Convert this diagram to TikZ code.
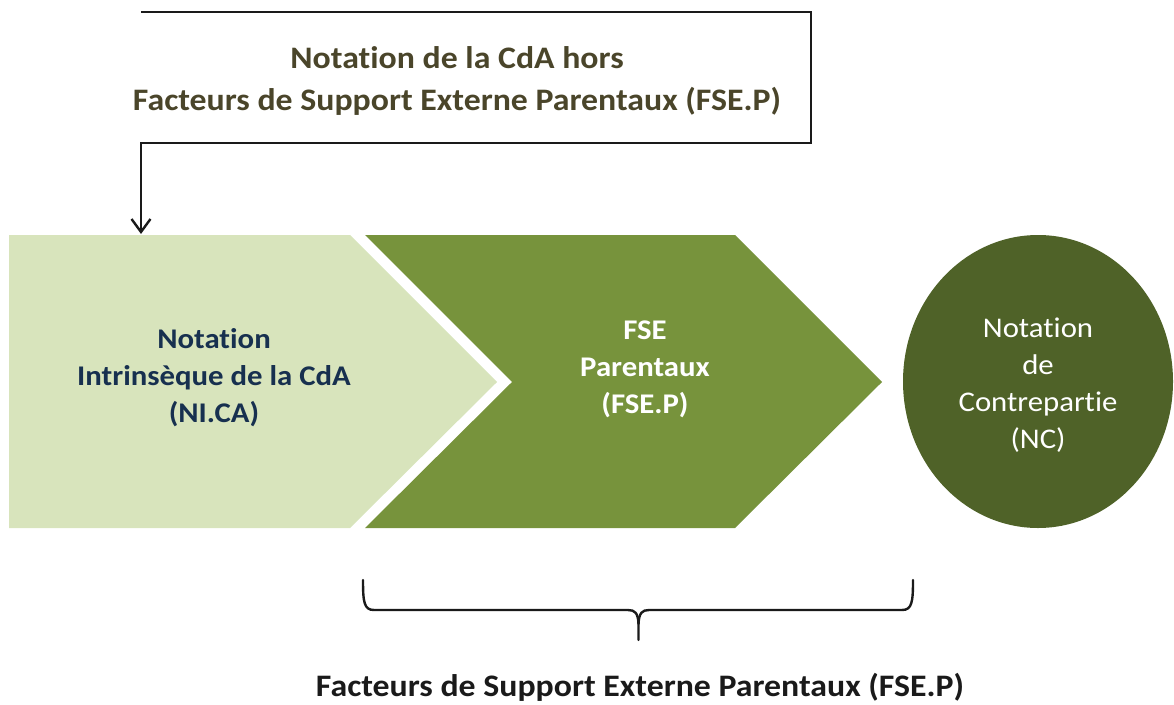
\documentclass[tikz,border=0pt]{standalone}
\usepackage{fontspec}
\setmainfont[Ligatures=NoCommon,FakeStretch=1.08]{Carlito}
\usetikzlibrary{arrows.meta,shapes.geometric}
\definecolor{lightg}{HTML}{D8E4BC}
\definecolor{midg}{HTML}{77933C}
\definecolor{darkg}{HTML}{4F6228}
\definecolor{toptxt}{HTML}{4A452A}
\definecolor{navy}{HTML}{17304F}
\definecolor{ink}{HTML}{1A1A1A}
\tikzset{
  lbl/.style={align=center, inner sep=0pt},
  conn/.style={draw=ink, line width=2.4pt},
}
\begin{document}
\begin{tikzpicture}[x=1pt,y=-1pt]
\useasboundingbox (0,0) rectangle (1174,704);
% chevrons
\fill[lightg] (9,235) -- (350,235) -- (497,382) -- (350,528) -- (9,528) -- cycle;
\fill[midg] (365,235) -- (735,235) -- (882,382) -- (735,528) -- (365,528) -- (512,382) -- cycle;
\node[ellipse, fill=darkg, minimum width=270pt, minimum height=293pt, inner sep=0pt] (nc) at (1038,381.5) {};
% texts
\node[lbl, text=toptxt, font=\bfseries\fontsize{31.3}{42}\selectfont] (top) at (457,81)
  {Notation de la CdA hors\\Facteurs de Support Externe Parentaux (FSE.P)};
\node[lbl, text=navy, font=\bfseries\fontsize{28.5}{37}\selectfont] (nica) at (214,378)
  {Notation\\Intrinsèque de la CdA\\(NI.CA)};
\node[lbl, text=white, font=\bfseries\fontsize{28.5}{37}\selectfont] (fsep) at (645,369)
  {FSE\\Parentaux\\(FSE.P)};
\node[lbl, text=white, font=\fontsize{28.5}{37}\selectfont] (nctxt) at (1038,385)
  {Notation\\de\\Contrepartie\\(NC)};
\node[lbl, text=ink, font=\bfseries\fontsize{31.3}{42}\selectfont] (bottom) at (640,687)
  {Facteurs de Support Externe Parentaux (FSE.P)};
% top open box with arrow
\coordinate (tl) at (141,12);
\coordinate (tr) at (811,12);
\coordinate (br) at (811,143);
\coordinate (bl) at (141,143);
\coordinate (tip) at (141,234);
\draw[conn, line join=miter] (tl) -- (tr) -- (br) -- (bl) -- (141,160);
\draw[conn, -{Straight Barb[length=13pt,width=19pt,line width=2.4pt]}] (bl) -- (tip);
% brace
\draw[draw=ink, line width=2.4pt, line cap=round]
  (363,580) .. controls (363,602) and (364,610) .. (374,610) -- (628,610)
  .. controls (635,610) and (638,613) .. (638.5,624) -- (638.5,640);
\draw[draw=ink, line width=2.4pt, line cap=round]
  (913,580) .. controls (913,602) and (912,610) .. (902,610) -- (649,610)
  .. controls (642,610) and (639,613) .. (638.5,624);
\end{tikzpicture}
\end{document}
